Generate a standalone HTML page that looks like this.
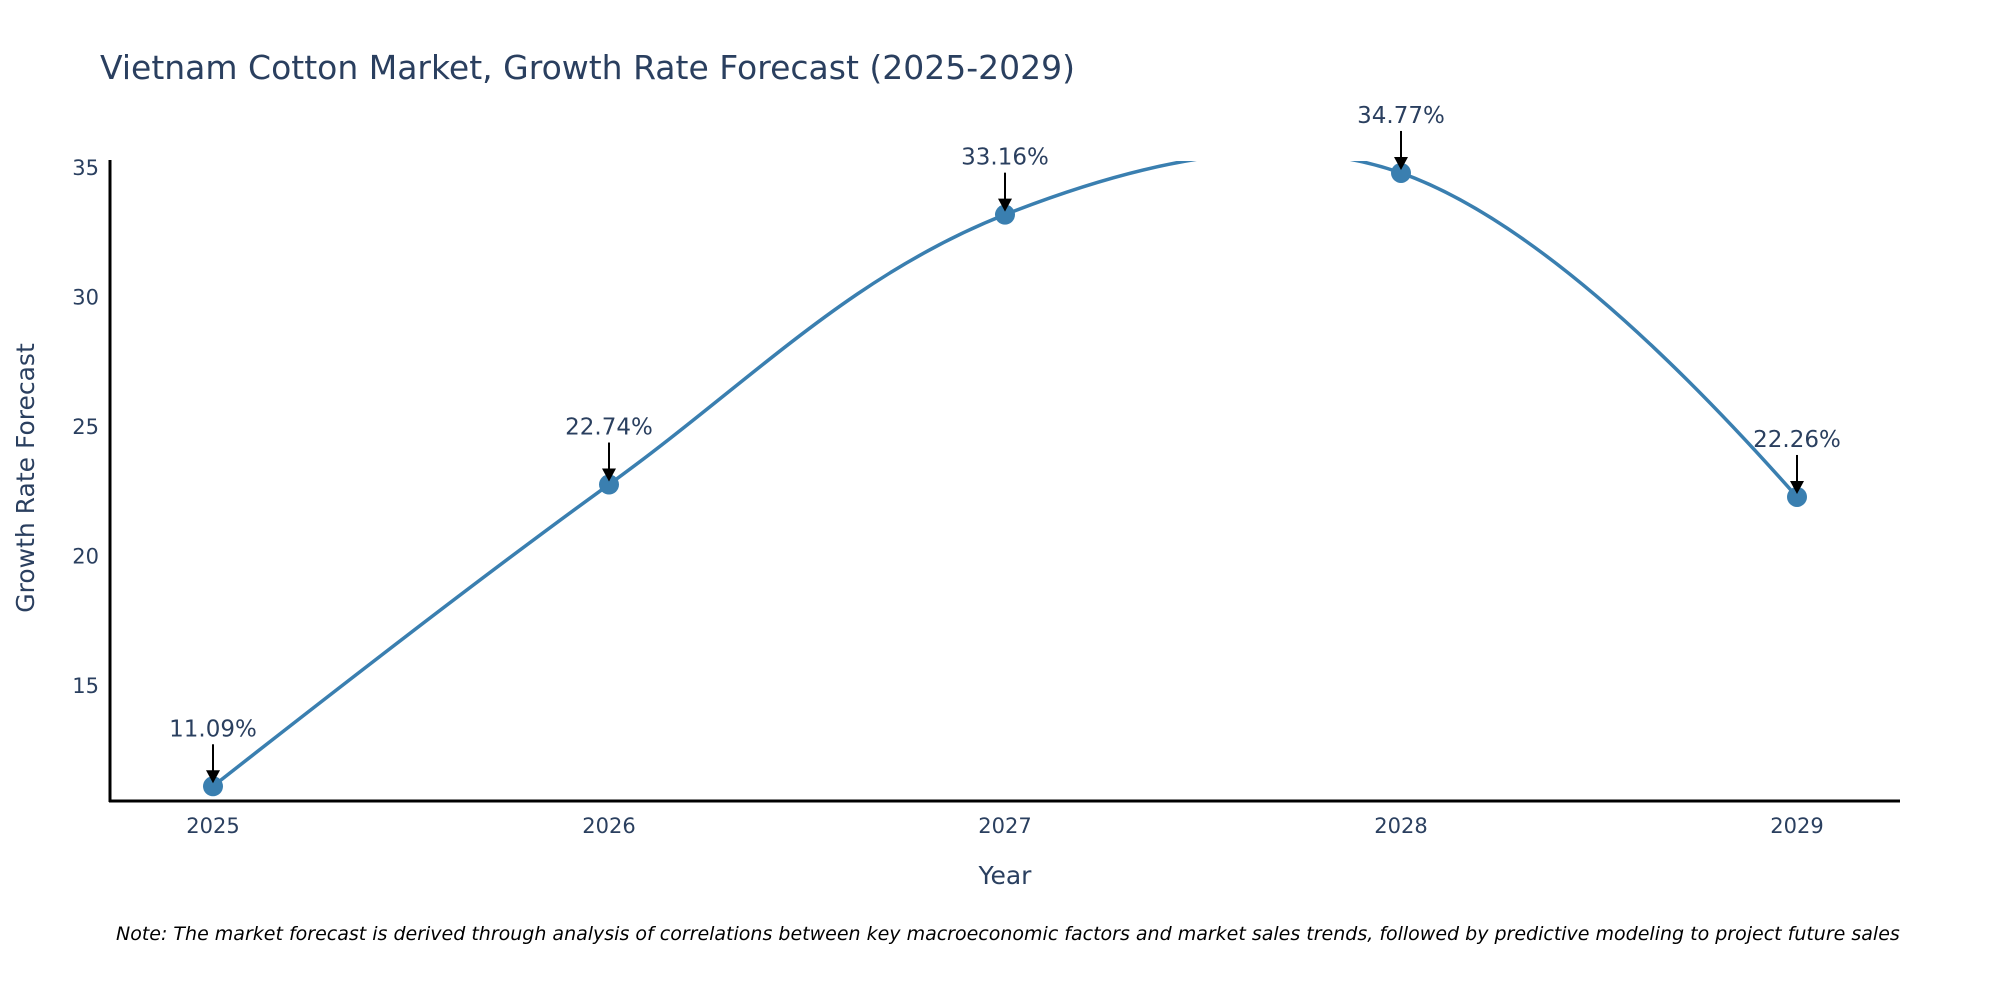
<!DOCTYPE html>
<html><head><meta charset="utf-8">
<style>
html,body{margin:0;padding:0;background:#fff;}
svg{display:block;font-family:"DejaVu Sans","Liberation Sans",sans-serif;}
</style></head>
<body>
<svg id="chart" width="2000" height="1000" viewBox="0 0 2000 1000" xmlns="http://www.w3.org/2000/svg">
<defs><clipPath id="plotclip"><rect x="110" y="161" width="1790" height="640"/></clipPath></defs>
<text x="100" y="79" font-size="33" fill="#2a3f5f">Vietnam Cotton Market, Growth Rate Forecast (2025-2029)</text>
<g id="yticks"></g>
<g id="xticks"></g>
<line x1="110" y1="160" x2="110" y2="802" stroke="#000" stroke-width="3"/>
<line x1="109" y1="801" x2="1900" y2="801" stroke="#000" stroke-width="3"/>
<g clip-path="url(#plotclip)"><path id="line" fill="none" stroke="#3a7fb0" stroke-width="3.5"/></g>
<g id="points"></g>
<g id="annots"></g>
<text transform="translate(34,478) rotate(-90)" text-anchor="middle" font-size="25" fill="#2a3f5f">Growth Rate Forecast</text>
<text x="1005" y="884" text-anchor="middle" font-size="25" fill="#2a3f5f">Year</text>
<text x="116" y="940" font-size="19" font-style="italic" fill="#000">Note: The market forecast is derived through analysis of correlations between key macroeconomic factors and market sales trends, followed by predictive modeling to project future sales</text>
</svg>
<script>
const years = [2025, 2026, 2027, 2028, 2029];
const growth = [11.09, 22.74, 33.16, 34.77, 22.26];
const yTickValues = [15, 20, 25, 30, 35];
const NS = "http://www.w3.org/2000/svg";
function xs(v){ return 213 + (v - 2025) * 396; }
function ys(v){ return 167 + (35 - v) * 25.9; }
function mk(tag, attrs, parent){ const e=document.createElementNS(NS,tag); for(const k in attrs) e.setAttribute(k,attrs[k]); parent.appendChild(e); return e; }
const yt=document.getElementById('yticks');
yTickValues.forEach(v=>{
  const t=mk('text',{x:99,y:ys(v)+8,'text-anchor':'end','font-size':21,fill:'#2a3f5f'},yt);
  
  
  t.textContent=v;
});
const xt=document.getElementById('xticks');
years.forEach(v=>{
  const t=mk('text',{x:xs(v),y:833,'text-anchor':'middle','font-size':21,fill:'#2a3f5f'},xt);
  
  
  t.textContent=v;
});
const P=years.map((y,i)=>[xs(y),ys(growth[i])]);
const cps=[];
for(let i=1;i<P.length-1;i++){
  const p0=P[i-1],p1=P[i],p2=P[i+1];
  const d1=Math.hypot(p1[0]-p0[0],p1[1]-p0[1]), d2=Math.hypot(p2[0]-p1[0],p2[1]-p1[1]);
  const dx=p2[0]-p0[0], dy=p2[1]-p0[1], f=0.36;
  cps[i]={a:[p1[0]-dx*f*d1/(d1+d2),p1[1]-dy*f*d1/(d1+d2)], b:[p1[0]+dx*f*d2/(d1+d2),p1[1]+dy*f*d2/(d1+d2)]};
}
let d='M'+P[0][0]+','+P[0][1];
d+=' Q'+cps[1].a[0]+','+cps[1].a[1]+' '+P[1][0]+','+P[1][1];
for(let i=1;i<P.length-2;i++){
  d+=' C'+cps[i].b[0]+','+cps[i].b[1]+' '+cps[i+1].a[0]+','+cps[i+1].a[1]+' '+P[i+1][0]+','+P[i+1][1];
}
const n=P.length-1;
d+=' Q'+cps[n-1].b[0]+','+cps[n-1].b[1]+' '+P[n][0]+','+P[n][1];
document.getElementById('line').setAttribute('d',d);
const pts=document.getElementById('points'), an=document.getElementById('annots');
P.forEach((p,i)=>{
  const c=mk('circle',{cx:p[0],cy:p[1],r:10,fill:'#3a7fb0'},pts);
  
  
  const l=mk('line',{x1:p[0],y1:p[1]-42,x2:p[0],y2:p[1]-14,stroke:'#000','stroke-width':2},an);
  
  
  const h=mk('polygon',{points:(p[0]-7)+','+(p[1]-16)+' '+(p[0]+7)+','+(p[1]-16)+' '+p[0]+','+(p[1]-3),fill:'#000'},an);
  
  
  const t=mk('text',{x:p[0],y:p[1]-50,'text-anchor':'middle','font-size':23,fill:'#2a3f5f'},an);
  
  
  t.textContent=growth[i].toFixed(2)+'%';
});
</script>
</body></html>
